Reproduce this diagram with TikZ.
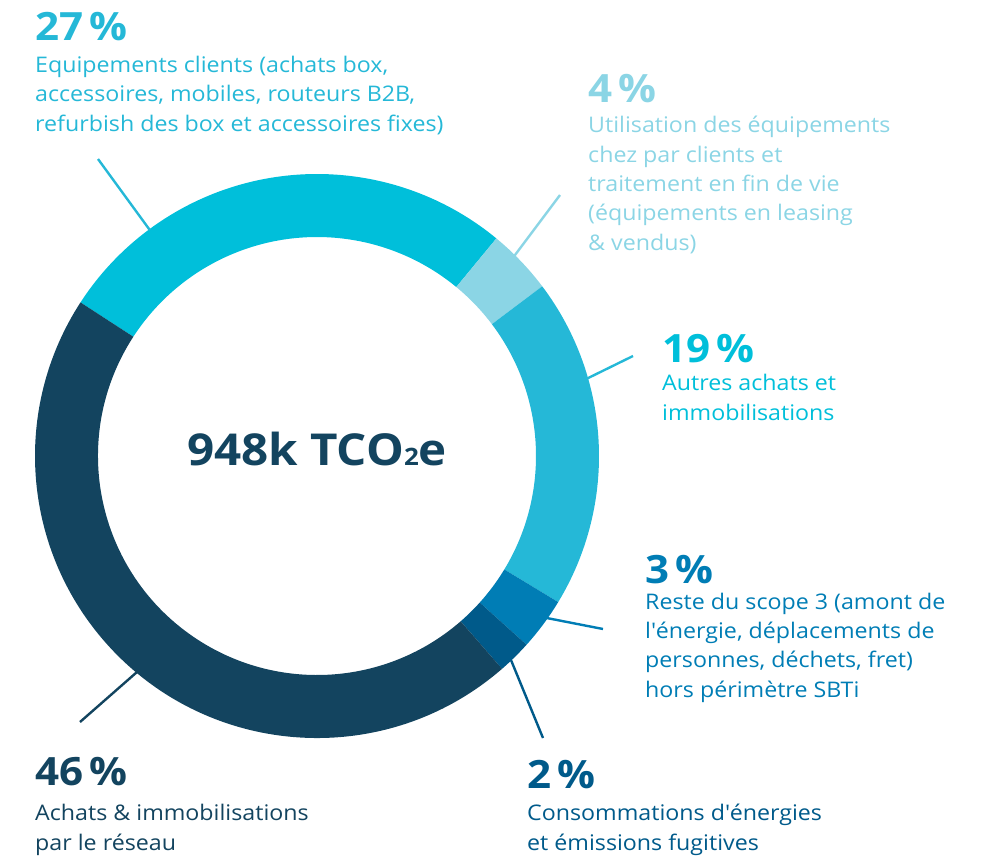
\documentclass[tikz,border=0pt]{standalone}
\usepackage{fontspec}
\setmainfont{Open Sans}[FakeStretch=1.08]
\usetikzlibrary{positioning, calc}

\definecolor{equip}{HTML}{00BFDA}
\definecolor{usage}{HTML}{8BD5E5}
\definecolor{autres}{HTML}{25B8D7}
\definecolor{reste}{HTML}{007DB5}
\definecolor{energie}{HTML}{005A8A}
\definecolor{reseau}{HTML}{13445F}

\begin{document}
\begin{tikzpicture}[x=1pt, y=1pt, every node/.style={inner sep=0pt},
  pct/.style={font=\fontsize{39}{39}\selectfont\bfseries, anchor=base west},
  desc/.style={font=\fontsize{21.5}{29.3}\selectfont, align=left},
  trait/.style={line width=2.4pt}]
\useasboundingbox (0,0) rectangle (987,-857);
\coordinate (centre) at (317,-456);

% Anneau
\fill[equip] ($(centre)+(147:282)$) arc[start angle=147, end angle=50.5, radius=282]
  -- ($(centre)+(50.5:219)$) arc[start angle=50.5, end angle=147, radius=219] -- cycle;
\fill[usage] ($(centre)+(50.5:282)$) arc[start angle=50.5, end angle=37, radius=282]
  -- ($(centre)+(37:219)$) arc[start angle=37, end angle=50.5, radius=219] -- cycle;
\fill[autres] ($(centre)+(37:282)$) arc[start angle=37, end angle=-31.2, radius=282]
  -- ($(centre)+(-31.2:219)$) arc[start angle=-31.2, end angle=37, radius=219] -- cycle;
\fill[reste] ($(centre)+(-31.2:282)$) arc[start angle=-31.2, end angle=-42, radius=282]
  -- ($(centre)+(-42:219)$) arc[start angle=-42, end angle=-31.2, radius=219] -- cycle;
\fill[energie] ($(centre)+(-42:282)$) arc[start angle=-42, end angle=-49, radius=282]
  -- ($(centre)+(-49:219)$) arc[start angle=-49, end angle=-42, radius=219] -- cycle;
\fill[reseau] ($(centre)+(-49:282)$) arc[start angle=-49, end angle=-213, radius=282]
  -- ($(centre)+(-213:219)$) arc[start angle=-213, end angle=-49, radius=219] -- cycle;

% Total
\node (total) at (317,-465) [anchor=base, text=reseau, font=\fontsize{44}{44}\selectfont\bfseries]
  {948k TCO{\fontsize{24}{24}\selectfont 2}e};

% Equipements clients
\node (p27) at (35,-40) [pct, text=autres] {27\,\%};
\node (d27) [desc, text=autres, below=91pt of p27.base west, anchor=base west]
  {Equipements clients (achats box,\\accessoires, mobiles, routeurs B2B,\\refurbish des box et accessoires fixes)};

% Utilisation
\node (p4) at (588,-102) [pct, text=usage] {4\,\%};
\node (d4) [desc, text=usage, below=148pt of p4.base west, anchor=base west]
  {Utilisation des équipements\\chez par clients et\\traitement en fin de vie\\(équipements en leasing\\\& vendus)};

% Autres achats
\node (p19) at (662,-362) [pct, text=equip] {19\,\%};
\node (d19) [desc, text=equip, below=58pt of p19.base west, anchor=base west]
  {Autres achats et\\immobilisations};

% Reste du scope 3
\node (p3) at (645,-583) [pct, text=reste] {3\,\%};
\node (d3) [desc, text=reste, below=114pt of p3.base west, anchor=base west]
  {Reste du scope 3 (amont de\\l\textquotesingle énergie, déplacements de\\personnes, déchets, fret)\\hors périmètre SBTi};

% Reseau
\node (p46) at (35,-785) [pct, text=reseau] {46\,\%};
\node (d46) [desc, text=reseau, below=65pt of p46.base west, anchor=base west]
  {Achats \& immobilisations\\par le réseau};

% Energie
\node (p2) at (527,-788) [pct, text=energie] {2\,\%};
\node (d2) [desc, text=energie, below=62pt of p2.base west, anchor=base west]
  {Consommations d\textquotesingle énergies\\et émissions fugitives};

% Traits de rappel
\coordinate (a27) at ($(centre)+(126.5:281)$);
\coordinate (b27) at (98,-159);
\coordinate (a4) at ($(centre)+(45.4:281)$);
\coordinate (b4) at (560,-195);
\coordinate (a19) at ($(centre)+(16:281)$);
\coordinate (b19) at (633,-356);
\coordinate (a3) at ($(centre)+(-35.2:281)$);
\coordinate (b3) at (603,-629);
\coordinate (a2) at ($(centre)+(-46.4:281)$);
\coordinate (b2) at (543,-738);
\coordinate (a46) at ($(centre)+(-129.8:281)$);
\coordinate (b46) at (80,-722);
\draw[trait, autres] (a27) -- (b27);
\draw[trait, usage] (a4) -- (b4);
\draw[trait, autres] (a19) -- (b19);
\draw[trait, reste] (a3) -- (b3);
\draw[trait, energie] (a2) -- (b2);
\draw[trait, reseau] (a46) -- (b46);
\end{tikzpicture}
\end{document}
